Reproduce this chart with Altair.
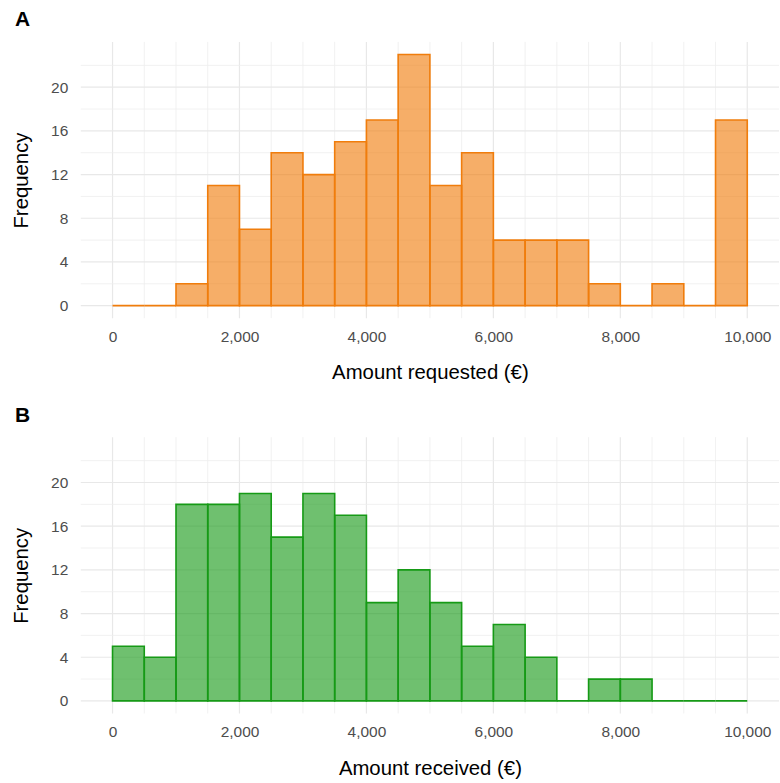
import altair as alt
import pandas as pd

# ---- data ----
bin_start = [0, 500, 1000, 1500, 2000, 2500, 3000, 3500, 4000, 4500,
             5000, 5500, 6000, 6500, 7000, 7500, 8000, 8500, 9000, 9500]
bin_end = [500, 1000, 1500, 2000, 2500, 3000, 3500, 4000, 4500, 5000,
           5500, 6000, 6500, 7000, 7500, 8000, 8500, 9000, 9500, 10000]
requested_counts = [0, 0, 2, 11, 7, 14, 12, 15, 17, 23,
                    11, 14, 6, 6, 6, 2, 0, 2, 0, 17]
received_counts = [5, 4, 18, 18, 19, 15, 19, 17, 9, 12,
                   9, 5, 7, 4, 0, 2, 2, 0, 0, 0]

x_major = [0, 2000, 4000, 6000, 8000, 10000]
x_minor = [500, 1000, 1500, 2500, 3000, 3500, 4500, 5000, 5500,
           6500, 7000, 7500, 8500, 9000, 9500]
y_major = [0, 4, 8, 12, 16, 20]
y_minor = [2, 6, 10, 14, 18, 22]

FONT = "Liberation Sans"
W, H = 700, 277
xscale = alt.Scale(domain=[-500, 10500], nice=False, zero=False)
yscale = alt.Scale(domain=[-1.15, 24.15], nice=False, zero=False)
yaxis = alt.Axis(values=y_major, title="Frequency")


def panel(counts, color, xtitle, label):
    xaxis = alt.Axis(values=x_major, format=",d", title=xtitle)
    df = pd.DataFrame({"start": bin_start, "end": bin_end,
                       "count": counts, "base": [0] * len(counts)})
    vmin = alt.Chart(pd.DataFrame({"v": x_minor})).mark_rule(
        color="#EEEEEE", strokeWidth=0.8).encode(
        x=alt.X("v:Q", scale=xscale, axis=xaxis))
    vmaj = alt.Chart(pd.DataFrame({"v": x_major})).mark_rule(
        color="#E8E8E8", strokeWidth=1.2).encode(
        x=alt.X("v:Q", scale=xscale, axis=xaxis))
    hmin = alt.Chart(pd.DataFrame({"v": y_minor})).mark_rule(
        color="#EEEEEE", strokeWidth=0.8).encode(
        y=alt.Y("v:Q", scale=yscale, axis=yaxis))
    hmaj = alt.Chart(pd.DataFrame({"v": y_major})).mark_rule(
        color="#E8E8E8", strokeWidth=1.2).encode(
        y=alt.Y("v:Q", scale=yscale, axis=yaxis))
    bars = alt.Chart(df).mark_rect(
        fill=color, fillOpacity=0.62, stroke=color, strokeWidth=1.6).encode(
        x=alt.X("start:Q", scale=xscale, axis=xaxis),
        x2="end:Q",
        y=alt.Y("count:Q", scale=yscale, axis=yaxis),
        y2="base:Q",
    )
    return alt.layer(vmin, vmaj, hmin, hmaj, bars).properties(
        width=W, height=H,
        title=alt.TitleParams(label, anchor="start", frame="group",
                              fontSize=21, fontWeight="bold", font=FONT,
                              color="black", dx=-66, offset=11),
    )


top = panel(requested_counts, "#F07D0C", "Amount requested (€)", "A")
bottom = panel(received_counts, "#169A16", "Amount received (€)", "B")

chart = alt.vconcat(top, bottom, spacing=20.3).properties(
    padding={"left": 11, "top": 8, "right": 0, "bottom": 5}
).configure_view(stroke=None).configure_axis(
    domain=False, ticks=False, grid=False,
    labelFont=FONT, labelFontSize=15.5, labelColor="#4D4D4D",
    titleFont=FONT, titleFontSize=20.4, titleColor="black",
    titleFontWeight="normal",
).configure_axisX(labelPadding=11.5, titlePadding=17.8).configure_axisY(
    labelPadding=13, titlePadding=19)

chart.save("out.html", embed_options={"renderer": "svg", "actions": False})
